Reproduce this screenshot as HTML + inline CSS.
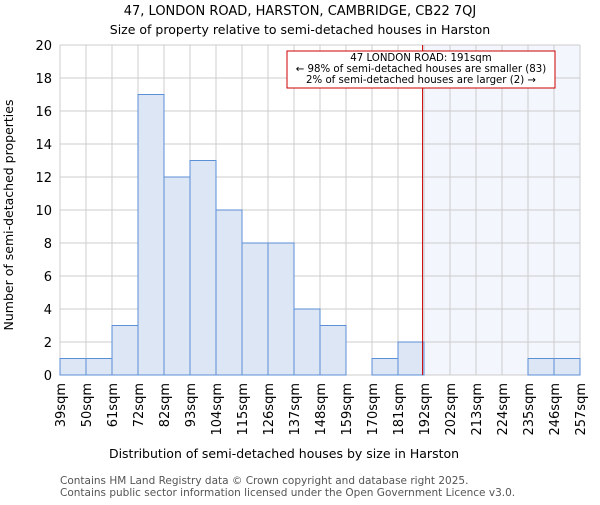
<!DOCTYPE html>
<html><head><meta charset="utf-8"><style>body{margin:0;background:#fff}svg text{font-family:"DejaVu Sans","Liberation Sans",sans-serif}</style></head>
<body>
<svg id="c" width="600" height="500" xmlns="http://www.w3.org/2000/svg">
<text x="300" y="15" text-anchor="middle" font-size="13">47, LONDON ROAD, HARSTON, CAMBRIDGE, CB22 7QJ</text>
<text x="300" y="34" text-anchor="middle" font-size="12.5">Size of property relative to semi-detached houses in Harston</text>
<g id="plot"></g>
<text x="284" y="458" text-anchor="middle" font-size="12.5">Distribution of semi-detached houses by size in Harston</text>
<text transform="translate(13,215) rotate(-90)" text-anchor="middle" font-size="12.5">Number of semi-detached properties</text>
<text x="60" y="484" font-size="10.5" fill="#555">Contains HM Land Registry data © Crown copyright and database right 2025.</text>
<text x="60" y="496" font-size="10.5" fill="#555">Contains public sector information licensed under the Open Government Licence v3.0.</text>
</svg>
<script>
const categories=["39sqm","50sqm","61sqm","72sqm","82sqm","93sqm","104sqm","115sqm","126sqm","137sqm","148sqm","159sqm","170sqm","181sqm","192sqm","202sqm","213sqm","224sqm","235sqm","246sqm","257sqm"];
const counts=[1,1,3,17,12,13,10,8,8,4,3,0,1,2,0,0,0,0,1,1];
const yTicks=[0,2,4,6,8,10,12,14,16,18,20];
const propertySize=191;
const binStart=39, binEnd=257;
const L=60,R=580,T=45,B=375,yMax=20;
const NS="http://www.w3.org/2000/svg";
const g=document.getElementById('plot');
const bw=(R-L)/counts.length;
const xs=i=>L+i*bw;
const ys=v=>B-(v/yMax)*(B-T);
const xv=v=>L+(v-binStart)/(binEnd-binStart)*(R-L);
function mk(t,a,txt){const e=document.createElementNS(NS,t);for(const k in a)e.setAttribute(k,a[k]);if(txt!=null)e.textContent=txt;g.appendChild(e);return e;}
const px=xv(propertySize);
let e=mk('rect',{x:px,y:T,width:R-px,height:B-T,fill:'#eef2fb',opacity:0.7});


yTicks.forEach(v=>{let l=mk('line',{x1:L,x2:R,y1:ys(v),y2:ys(v),stroke:'#ccc','stroke-width':1});


let t=mk('text',{x:L-8,y:ys(v)+5,'text-anchor':'end','font-size':13},v);

});
categories.forEach((c,i)=>{let l=mk('line',{x1:xs(i),x2:xs(i),y1:T,y2:B,stroke:'#ccc','stroke-width':1});


let t=mk('text',{transform:`translate(${xs(i)+5},${B+8}) rotate(-90)`,'text-anchor':'end','font-size':13},c);

});
counts.forEach((v,i)=>{if(v<=0)return;let r=mk('rect',{x:xs(i),y:ys(v),width:bw,height:B-ys(v),fill:'#dce6f4',stroke:'#5b8fd6','stroke-width':1});

});
e=mk('line',{x1:px,x2:px,y1:T,y2:B,stroke:'#cc0000','stroke-width':1});


e=mk('rect',{x:287,y:51,width:268,height:37,fill:'#fff',stroke:'#cc0000','stroke-width':1});


["47 LONDON ROAD: 191sqm","← 98% of semi-detached houses are smaller (83)","2% of semi-detached houses are larger (2) →"].forEach((s,i)=>{let t=mk('text',{x:421,y:61+i*11,'text-anchor':'middle','font-size':10.2},s);

});
</script>
</body></html>
